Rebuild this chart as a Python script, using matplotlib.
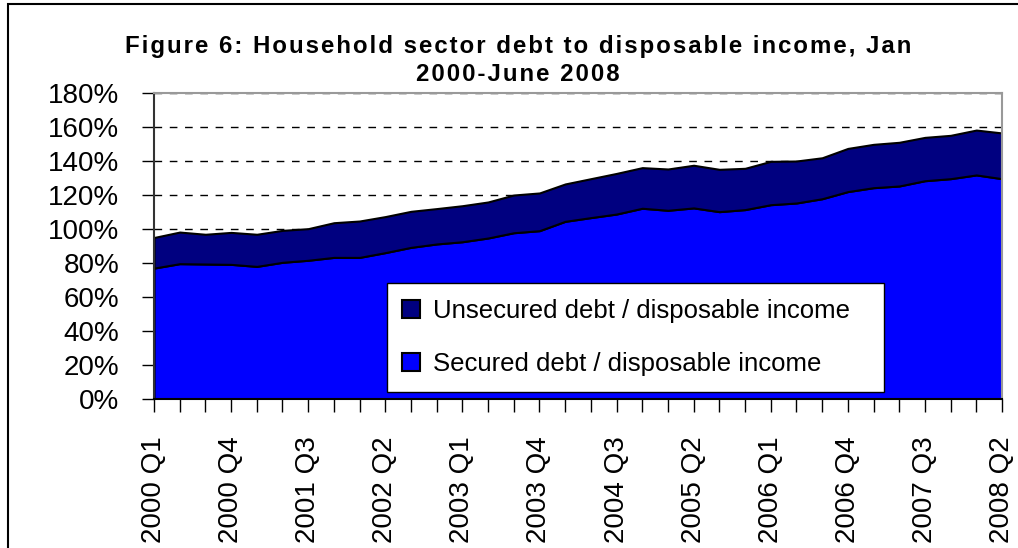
import matplotlib

matplotlib.use('Agg')
import matplotlib.pyplot as plt
from matplotlib.patches import Rectangle
import numpy as np

plt.rcParams['font.family'] = ['Liberation Sans', 'DejaVu Sans']

# quarterly categories, 2000 Q1 .. 2008 Q2
quarters = [f"{y} Q{q}" for y in range(2000, 2009) for q in range(1, 5)][:34]

# secured debt / disposable income (%)
secured = [77.0, 79.6, 79.4, 79.2, 78.0, 80.4, 81.6, 83.3, 83.3, 86.1,
           89.2, 91.2, 92.5, 94.7, 97.8, 99.0, 104.5, 106.7, 108.8, 112.2,
           111.0, 112.4, 110.2, 111.4, 114.3, 115.3, 117.8, 122.0, 124.3, 125.3,
           128.4, 129.6, 131.8, 129.6]

# unsecured debt / disposable income (%)
unsecured = [18.0, 18.6, 17.5, 18.8, 18.9, 18.8, 18.6, 20.4, 21.4, 21.2,
             21.2, 20.8, 21.2, 21.2, 22.2, 22.2, 22.0, 22.9, 23.9, 23.9,
             24.3, 25.1, 24.9, 24.3, 25.5, 24.7, 24.1, 25.4, 25.5, 25.7,
             25.5, 25.5, 26.4, 26.9]

y_ticks = [0, 20, 40, 60, 80, 100, 120, 140, 160, 180]

title_lines = ["Figure 6: Household sector debt to disposable income, Jan",
               "2000-June 2008"]


def spaced(s):
    # the original title is drawn with wide letter spacing
    return '\u200a'.join(s)


fig = plt.figure(figsize=(10.18, 5.48), dpi=100)
ax = fig.add_axes([154 / 1018, 1 - 399 / 548, 848 / 1018, 306 / 548])

x = np.arange(len(quarters))
polys = ax.stackplot(x, secured, unsecured,
                     colors=['#0000FF', '#000080'],
                     edgecolor='black', linewidth=1.5,
                     labels=['Secured debt / disposable income',
                             'Unsecured debt / disposable income'],
                     zorder=2)

ax.set_xlim(0, len(quarters) - 1)
ax.set_ylim(0, 180)

ax.set_yticks(y_ticks)
ax.set_yticklabels([f"{v}%" for v in y_ticks], fontsize=20)
ax.tick_params(axis='y', direction='out', length=9, width=1, pad=16)

ax.set_xticks(x, minor=True)
ax.set_xticks(x[::3])
ax.set_xticklabels(quarters[::3], rotation=90, fontsize=20)
ax.tick_params(axis='x', which='both', direction='out', length=9, width=1, pad=18)

ax.yaxis.grid(True, linestyle=(0, (5.5, 5.5)), color='black', linewidth=1)
ax.set_axisbelow(True)

for side in ['top', 'right']:
    ax.spines[side].set_color('#999999')
    ax.spines[side].set_linewidth(1.5)
ax.spines['left'].set_color('#333333')
ax.spines['bottom'].set_color('black')
ax.spines['left'].set_linewidth(1.5)
ax.spines['bottom'].set_linewidth(1.5)

handles, labels = ax.get_legend_handles_labels()
leg = ax.legend(handles[::-1], labels[::-1], loc='center', mode='expand',
                bbox_to_anchor=(0.2748, 0.0294, 0.586, 0.343),
                fontsize=18.5, frameon=True, fancybox=False, framealpha=1,
                edgecolor='black', handlelength=0.7, handleheight=0.7,
                handletextpad=0.5, labelspacing=1.15, borderpad=0.6,
                borderaxespad=0)
leg.get_frame().set_linewidth(1)
leg.set_zorder(5)

fig.text(0.509, 0.89, '\n'.join(spaced(t) for t in title_lines),
         ha='center', va='center', fontsize=17.3, fontweight='bold',
         linespacing=1.25)

# outer chart frame
fig.patches.append(Rectangle((8 / 1018, -0.1), 1.2, 1.1 - 4 / 548,
                             transform=fig.transFigure, fill=False,
                             edgecolor='black', linewidth=1.5, clip_on=False))

fig.savefig('out.png', dpi=100)
